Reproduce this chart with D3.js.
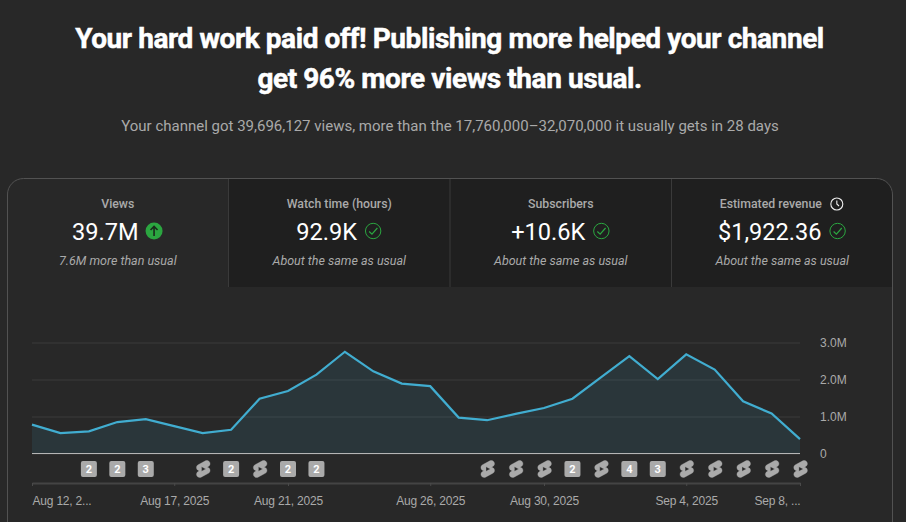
<!DOCTYPE html>
<html>
<head>
<meta charset="utf-8">
<script src="https://cdn.jsdelivr.net/npm/d3@7"></script>
<style>
  html, body { margin: 0; padding: 0; background: #282828; overflow: hidden; }
  svg { display: block; font-family: Roboto, sans-serif; }
  .xAxis .domain { stroke: #444; stroke-width: 2; }
  .xAxis line { stroke: #4a4a4a; }
  .xAxis text { fill: #aaa; font-size: 12px; letter-spacing: -0.2px; }
  .yAxis .domain { display: none; }
  .yAxis line { stroke: #3a3a3a; }
  .yAxis text { fill: #aaa; font-size: 12px; }
</style>
</head>
<body>
<div id="chart"></div>
<script>
// DATA
const titleLines = [
  "Your hard work paid off! Publishing more helped your channel",
  "get 96% more views than usual."
];
const subtitle = "Your channel got 39,696,127 views, more than the 17,760,000–32,070,000 it usually gets in 28 days";

const metricNames = ["Views", "Watch time (hours)", "Subscribers", "Estimated revenue"];
const metricValues = ["39.7M", "92.9K", "+10.6K", "$1,922.36"];
const metricNotes = ["7.6M more than usual", "About the same as usual", "About the same as usual", "About the same as usual"];
const metricStatus = ["up", "ok", "ok", "ok"];

const days = ["2025-08-12","2025-08-13","2025-08-14","2025-08-15","2025-08-16","2025-08-17","2025-08-18",
  "2025-08-19","2025-08-20","2025-08-21","2025-08-22","2025-08-23","2025-08-24","2025-08-25",
  "2025-08-26","2025-08-27","2025-08-28","2025-08-29","2025-08-30","2025-08-31","2025-09-01",
  "2025-09-02","2025-09-03","2025-09-04","2025-09-05","2025-09-06","2025-09-07","2025-09-08"];
const views = [780000,550000,600000,850000,930000,740000,550000,640000,1480000,1690000,2130000,2750000,2220000,1890000,
  1820000,970000,900000,1070000,1230000,1480000,2060000,2630000,2010000,2680000,2270000,1410000,1080000,390000];
// uploads per day: "" none, "s" a short, number = count badge
const uploads = ["","",2,2,3,"","s",2,"s",2,2,"","","","","","s","s","s",2,"s",4,3,"s","s","s","s","s"];

const xTickDays = ["2025-08-12","2025-08-17","2025-08-21","2025-08-26","2025-08-30","2025-09-04","2025-09-08"];
const xTickLabels = ["Aug 12, 2...","Aug 17, 2025","Aug 21, 2025","Aug 26, 2025","Aug 30, 2025","Sep 4, 2025","Sep 8, ..."];
const yTicks = [0, 1000000, 2000000, 3000000];
const yTickLabels = ["0", "1.0M", "2.0M", "3.0M"];

// CONSTANTS
const width = 906, height = 522;
const margin = {top: 342.5, right: 106, bottom: 68.5, left: 32};
const parseDay = d3.utcParse("%Y-%m-%d");
const shortsPath = "M17.77 10.32l-1.2-.5L18 9.06c1.84-.96 2.53-3.23 1.56-5.06s-3.24-2.53-5.07-1.56L6 6.94c-1.29.68-2.07 2.04-2 3.49.07 1.42.93 2.67 2.22 3.25.03.01 1.2.5 1.2.5L6 14.93c-1.83.97-2.53 3.24-1.56 5.07.97 1.83 3.24 2.53 5.07 1.56l8.5-4.5c1.29-.68 2.06-2.04 1.99-3.49-.07-1.42-.94-2.68-2.23-3.25zM10 14.65v-5.3L15 12l-5 2.65z";

const data = days.map((d, i) => ({day: parseDay(d), views: views[i], upload: uploads[i]}));

const svg = d3.select("#chart").append("svg")
  .attr("width", width)
  .attr("height", height)
  .style("background-color", "#282828");

// TITLE
svg.selectAll("text.title")
  .data(titleLines)
  .join("text")
  .attr("class", "title")
  .attr("x", 449.5)
  .attr("y", (d, i) => 48 + i * 40)
  .attr("text-anchor", "middle")
  .attr("fill", "#fff")
  .attr("stroke", "#fff")
  .attr("stroke-width", 0.5)
  .style("font-size", "28px")
  .style("font-weight", 700)
  .style("letter-spacing", "-0.43px")
  .text(d => d);

svg.append("text")
  .attr("x", 450)
  .attr("y", 131)
  .attr("text-anchor", "middle")
  .attr("fill", "#aaa")
  .style("font-size", "15px")
  .text(subtitle);

// CARD + TABS
const tabScale = d3.scaleBand().domain(metricNames).range([7, 893]);
const cardTop = 179, tabBottom = 287, radius = 16;

svg.selectAll("path.tab")
  .data(metricNames.slice(1))
  .join("path")
  .attr("class", "tab")
  .attr("fill", "#1f1f1f")
  .attr("d", (d, i) => {
    const x0 = tabScale(d), x1 = x0 + tabScale.bandwidth();
    if (i < 2) return `M${x0},${cardTop}H${x1}V${tabBottom}H${x0}Z`;
    return `M${x0},${cardTop}H${x1 - radius}A${radius},${radius} 0 0 1 ${x1},${cardTop + radius}V${tabBottom}H${x0}Z`;
  });

svg.selectAll("line.divider")
  .data(metricNames.slice(1))
  .join("line")
  .attr("class", "divider")
  .attr("x1", d => tabScale(d))
  .attr("x2", d => tabScale(d))
  .attr("y1", cardTop)
  .attr("y2", tabBottom)
  .attr("stroke", "#3a3a3a");

svg.append("path")
  .attr("fill", "none")
  .attr("stroke", "#525252")
  .attr("d", `M7.5,${height + 2}V${cardTop + radius}A${radius},${radius} 0 0 1 ${7.5 + radius},${cardTop - 0.5}H${892.5 - radius}A${radius},${radius} 0 0 1 892.5,${cardTop + radius}V${height + 2}`);

// METRICS
const metric = svg.selectAll("g.metric")
  .data(metricNames)
  .join("g")
  .attr("class", "metric")
  .attr("transform", d => `translate(${tabScale(d) + tabScale.bandwidth() / 2},0)`);

const nameText = metric.append("text")
  .attr("y", 208)
  .attr("fill", "#aaa")
  .style("font-size", "12.3px")
  .style("font-weight", 500)
  .attr("text-anchor", "middle")
  .text(d => d);

metric.append("text")
  .attr("y", 265)
  .attr("fill", "#aaa")
  .attr("text-anchor", "middle")
  .style("font-size", "12.5px")
  .style("font-style", "italic")
  .text((d, i) => metricNotes[i]);

metric.each(function(d, i) {
  const g = d3.select(this);
  const v = g.append("text")
    .attr("y", 240)
    .attr("fill", "#fff")
    .style("font-size", "23.6px")
    .text(metricValues[i]);
  const w = v.node().getComputedTextLength();
  const total = w + 7 + 18;
  v.attr("x", -total / 2);
  const ic = g.append("g").attr("transform", `translate(${total / 2 - 9},231)`);
  if (metricStatus[i] === "up") {
    ic.append("circle").attr("r", 8.5).attr("cx", -0.5).attr("fill", "#2ba640");
    ic.append("path")
      .attr("d", "M-0.5,5V-4.5M-4,-1L-0.5,-4.5L3,-1")
      .attr("fill", "none")
      .attr("stroke", "#1a2a1c")
      .attr("stroke-width", 1.6);
  } else {
    ic.append("circle").attr("r", 7.7).attr("fill", "none").attr("stroke", "#2ba640").attr("stroke-width", 1);
    ic.append("path")
      .attr("d", "M-4,0.5L-1.2,3.2L4.2,-3")
      .attr("fill", "none")
      .attr("stroke", "#2ba640")
      .attr("stroke-width", 1.2);
  }
});

// clock beside estimated revenue
const revName = nameText.filter(d => d === "Estimated revenue");
const revW = revName.node().getComputedTextLength();
revName.attr("x", -11.5);
const clock = d3.select(revName.node().parentNode).append("g")
  .attr("transform", `translate(${revW / 2 + 3.5},204)`)
  .attr("fill", "none")
  .attr("stroke", "#eee");
clock.append("circle").attr("r", 6).attr("stroke-width", 1.1);
clock.append("path").attr("d", "M0,-3.5V0L2.2,2").attr("stroke-width", 1.1);

// SCALES
const xScale = d3.scaleUtc()
  .domain(d3.extent(data, d => d.day))
  .range([margin.left, width - margin.right]);

const yScale = d3.scaleLinear()
  .domain([0, 3000000])
  .range([height - margin.bottom, margin.top]);

// AXES
const yAxis = d3.axisRight(yScale)
  .tickValues(yTicks)
  .tickSize(width - margin.left - margin.right)
  .tickPadding(20)
  .tickFormat((d, i) => yTickLabels[i]);

const yAxisGroup = svg.append("g")
  .attr("class", "yAxis")
  .attr("transform", `translate(${margin.left},0)`)
  .call(yAxis);

yAxisGroup.selectAll("text").attr("y", -0.3);

const xAxis = d3.axisBottom(xScale)
  .tickValues(xTickDays.map(parseDay))
  .tickSize(3)
  .tickSizeOuter(0)
  .tickPadding(10)
  .tickFormat((d, i) => xTickLabels[i]);

const xAxisGroup = svg.append("g")
  .attr("class", "xAxis")
  .attr("transform", "translate(0,483)")
  .call(xAxis);

xAxisGroup.selectAll("text")
  .attr("text-anchor", (d, i) => i === 0 ? "start" : i === xTickLabels.length - 1 ? "end" : "middle");

// AREA + LINE
const area = d3.area()
  .x(d => xScale(d.day))
  .y0(yScale(0))
  .y1(d => yScale(d.views));

const line = d3.line()
  .x(d => xScale(d.day))
  .y(d => yScale(d.views));

svg.append("path")
  .datum(data)
  .attr("fill", "#41add0")
  .attr("fill-opacity", 0.11)
  .attr("d", area);

svg.append("line")
  .attr("x1", margin.left)
  .attr("x2", width - margin.right)
  .attr("y1", yScale(0))
  .attr("y2", yScale(0))
  .attr("stroke", "#b5b5b5");

svg.append("path")
  .datum(data)
  .attr("fill", "none")
  .attr("stroke", "#41add0")
  .attr("stroke-width", 2.2)
  .attr("d", line);

// UPLOAD MARKERS
const markerY = 469;
const marker = svg.selectAll("g.marker")
  .data(data.filter(d => d.upload !== ""))
  .join("g")
  .attr("class", "marker")
  .attr("transform", d => `translate(${xScale(d.day)},${markerY})`);

marker.filter(d => d.upload === "s")
  .append("path")
  .attr("d", shortsPath)
  .attr("fill", "#aaa")
  .attr("fill-rule", "evenodd")
  .attr("stroke", "#aaa")
  .attr("stroke-width", 0.4)
  .attr("transform", "translate(0.6,0) scale(0.85) translate(-12,-12)");

const badge = marker.filter(d => d.upload !== "s");
badge.append("rect")
  .attr("x", -8).attr("y", -8)
  .attr("width", 16).attr("height", 16)
  .attr("rx", 2)
  .attr("fill", "#aaa");
badge.append("text")
  .attr("text-anchor", "middle")
  .attr("y", 4)
  .attr("fill", "#fff")
  .style("font-size", "11px")
  .style("font-weight", 700)
  .text(d => d.upload);
</script>
</body>
</html>
